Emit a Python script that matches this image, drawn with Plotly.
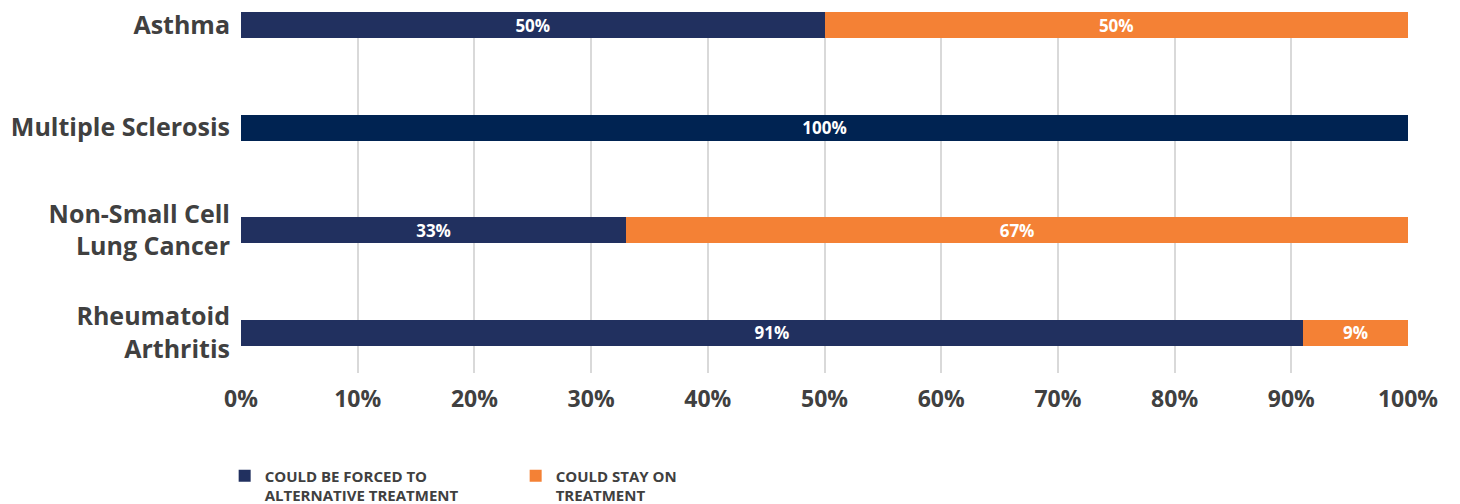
import plotly.graph_objects as go

categories = ["Asthma", "Multiple Sclerosis", "Non-Small Cell<br>Lung Cancer", "Rheumatoid<br>Arthritis"]
forced = [50, 100, 33, 91]
stay = [50, 0, 67, 9]
x_ticks = [0, 10, 20, 30, 40, 50, 60, 70, 80, 90, 100]
x_tick_labels = [f"{v}%" for v in x_ticks]

forced_colors = ["#21305f", "#002352", "#21305f", "#21305f"]
stay_color = "#f48135"
font_family = "Open Sans"
text_gray = "#404040"

fig = go.Figure()
fig.add_trace(go.Bar(
    y=categories, x=forced, orientation="h",
    name="COULD BE FORCED TO<br>ALTERNATIVE TREATMENT",
    marker=dict(color=forced_colors, line=dict(width=0)),
    text=[f"{v}%" if v > 0 else "" for v in forced],
    textposition="inside", insidetextanchor="middle",
    textfont=dict(color="white", size=17, family=font_family, weight="bold"),
))
fig.add_trace(go.Bar(
    y=categories, x=stay, orientation="h",
    name="COULD STAY ON<br>TREATMENT",
    marker=dict(color=stay_color, line=dict(width=0)),
    text=[f"{v}%" if v > 0 else "" for v in stay],
    textposition="inside", insidetextanchor="middle",
    textfont=dict(color="white", size=17, family=font_family, weight="bold"),
))

fig.update_layout(
    width=1460, height=504,
    barmode="stack", bargap=0.747,
    plot_bgcolor="white", paper_bgcolor="white",
    margin=dict(l=233, r=60, t=4, b=139),
    font=dict(family=font_family, color=text_gray),
    showlegend=True,
    legend=dict(
        orientation="h", x=-0.014, xanchor="left",
        yref="container", y=0.104, yanchor="top",
        valign="top",
        traceorder="normal",
        font=dict(size=15, family=font_family, color=text_gray, weight="bold"),
        entrywidth=246, entrywidthmode="pixels",
        itemwidth=30,
    ),
    uniformtext=dict(mode="show", minsize=17),
)
fig.update_xaxes(
    range=[0, 100], tickvals=x_ticks, ticktext=x_tick_labels,
    showgrid=True, gridcolor="#d9d9d9", gridwidth=2,
    zeroline=False, showline=False, automargin=False,
    ticks="", ticklabelstandoff=10,
    tickfont=dict(size=23, family=font_family, color=text_gray, weight="bold"),
)
fig.update_yaxes(
    range=[3.39, -0.127],
    showgrid=False, zeroline=False, showline=False, automargin=False,
    ticks="", ticklabelstandoff=10,
    tickfont=dict(size=25, family=font_family, color=text_gray, weight="bold"),
)

fig.write_html("out.html")
